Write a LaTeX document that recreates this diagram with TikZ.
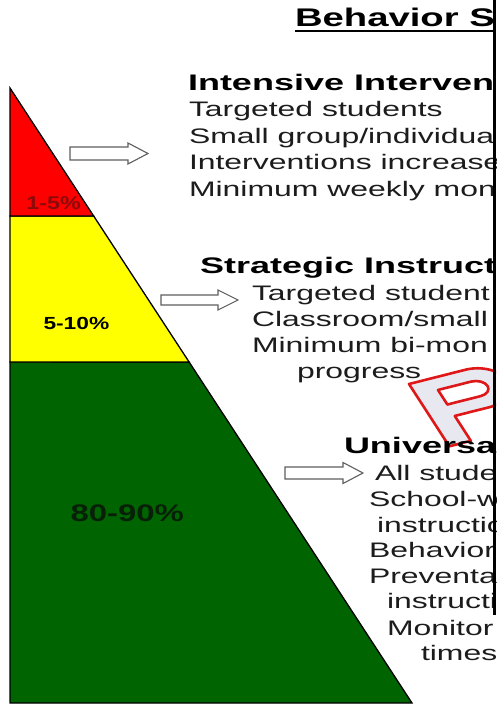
\documentclass[tikz,border=0pt]{standalone}
\usepackage{fontspec}
\setmainfont{Liberation Sans}
\usetikzlibrary{calc}

% wide lettering used throughout the chart
\newcommand\hw[1]{\scalebox{1.6}[1]{#1}}
\newcommand\bw[1]{\scalebox{1.52}[1]{#1}}

\definecolor{tierred}{RGB}{255,0,0}
\definecolor{tieryellow}{RGB}{255,255,0}
\definecolor{tiergreen}{RGB}{0,100,0}
\definecolor{labelred}{RGB}{140,10,10}
\definecolor{labelgreen}{RGB}{8,32,8}
\definecolor{bodygray}{RGB}{28,28,28}
\definecolor{arrowgray}{RGB}{95,95,95}
\definecolor{markred}{RGB}{222,24,24}
\definecolor{markfill}{RGB}{232,232,240}

\tikzset{
  txt/.style={anchor=base west, inner sep=0pt, outer sep=0pt},
  titletext/.style={txt, font=\bfseries\fontsize{25.5}{30}\selectfont},
  headtext/.style={txt, font=\bfseries\fontsize{22.5}{27}\selectfont},
  bodytext/.style={txt, text=bodygray, font=\fontsize{21}{25}\selectfont},
  pcttext/.style={txt},
  tier/.style={draw=black, line width=1.3pt, line join=miter},
  blockarrow/.style={draw=arrowgray, fill=white, line width=1.1pt, line join=miter},
}

% hollow block arrow: tail x, tip x, mid y, shaft half width, head half width, head length
\newcommand\hollowarrow[6]{%
  \draw[blockarrow] (#1,{#3-#4}) -- ({#2-#6},{#3-#4}) -- ({#2-#6},{#3-#5})
    -- (#2,#3) -- ({#2-#6},{#3+#5}) -- ({#2-#6},{#3+#4}) -- (#1,{#3+#4}) -- cycle;}

\begin{document}
\begin{tikzpicture}[x=1pt,y=-1pt]
\useasboundingbox (0,0) rectangle (496,704);
\fill[white] (0,0) rectangle (496,704);
\clip (0,0) rectangle (496,704);

% ---- tiered triangle ----
\coordinate (apex) at (10,88);
\coordinate (foot) at (412,703);
\coordinate (corner) at (10,703);
\coordinate (ry) at ($(apex)!0.2081!(foot)$);
\coordinate (ryl) at (10,216);
\coordinate (yg) at ($(apex)!0.4455!(foot)$);
\coordinate (ygl) at (10,362);

\filldraw[tier, fill=tiergreen] (ygl) -- (yg) -- (foot) -- (corner) -- cycle;
\filldraw[tier, fill=tieryellow] (ryl) -- (ry) -- (yg) -- (ygl) -- cycle;
\filldraw[tier, fill=tierred] (apex) -- (ry) -- (ryl) -- cycle;

\node[pcttext, text=labelred, font=\bfseries\fontsize{18.5}{22}\selectfont] (p1) at (26.5,209.5) {\scalebox{1.26}[1]{1-5\%}};
\node[pcttext, text=black, font=\bfseries\fontsize{17.5}{21}\selectfont] (p2) at (43.5,329.5) {\scalebox{1.3}[1]{5-10\%}};
\node[pcttext, text=labelgreen, font=\bfseries\fontsize{24}{28}\selectfont] (p3) at (70.5,521.5) {\scalebox{1.37}[1]{80-90\%}};

% ---- pointers ----
\hollowarrow{70}{148}{153.5}{6.5}{10.5}{20}
\hollowarrow{161}{238}{300}{5}{10}{20}
\hollowarrow{285}{363}{473}{6}{10.5}{20}

% ---- watermark letter ----
\begin{scope}[shift={(409,384)}, x=1pt, y=1pt, xscale=1.6, rotate=22, scale=1.12]
  \filldraw[draw=markred, fill=markfill, line width=2.6pt, even odd rule, line join=round]
    (0,0) -- (34,0) arc[start angle=90, end angle=-90, radius=18] -- (13,-36) -- (13,-60) -- (0,-60) -- cycle
    (13,-11) -- (33,-11) arc[start angle=90, end angle=-90, radius=7] -- (13,-25) -- cycle;
\end{scope}

% ---- title ----
\node[titletext] (title) at (295,26.5) {\scalebox{1.5}[1]{Behavior S}};
\draw[line width=2.8pt] ([yshift=-4.5pt]title.base west) -- (496,31);

% ---- intensive tier ----
\node[headtext] (h1) at (188,90.5) {\hw{Intensive Interven}};
\node[bodytext] (a1) at (189,116.5) {\bw{Targeted students}};
\node[bodytext] (a2) at (189,143) {\bw{Small group/individua}};
\node[bodytext] (a3) at (189,169.5) {\bw{Interventions increase}};
\node[bodytext] (a4) at (189,196) {\bw{Minimum weekly mon}};

% ---- strategic tier ----
\node[headtext] (h2) at (200,273) {\hw{Strategic Instruct}};
\node[bodytext] (b1) at (252,300) {\bw{Targeted student}};
\node[bodytext] (b2) at (252,326.5) {\bw{Classroom/small}};
\node[bodytext] (b3) at (252,352.5) {\bw{Minimum bi-mon}};
\node[bodytext] (b4) at (297,378) {\bw{progress}};

% ---- universal tier ----
\node[headtext] (h3) at (344,453) {\hw{Universa}};
\node[bodytext] (c1) at (375,480) {\bw{All stude}};
\node[bodytext] (c2) at (369,506.5) {\bw{School-w}};
\node[bodytext] (c3) at (377,532) {\bw{instructio}};
\node[bodytext] (c4) at (369,557) {\bw{Behavior}};
\node[bodytext] (c5) at (369,583) {\bw{Preventa}};
\node[bodytext] (c6) at (387,608) {\bw{instructi}};
\node[bodytext] (c7) at (387,635) {\bw{Monitor}};
\node[bodytext] (c8) at (421,660) {\bw{times}};

% ---- frame edge on the right ----
\fill[black] (493,0) rectangle (496,615);
\end{tikzpicture}
\end{document}
